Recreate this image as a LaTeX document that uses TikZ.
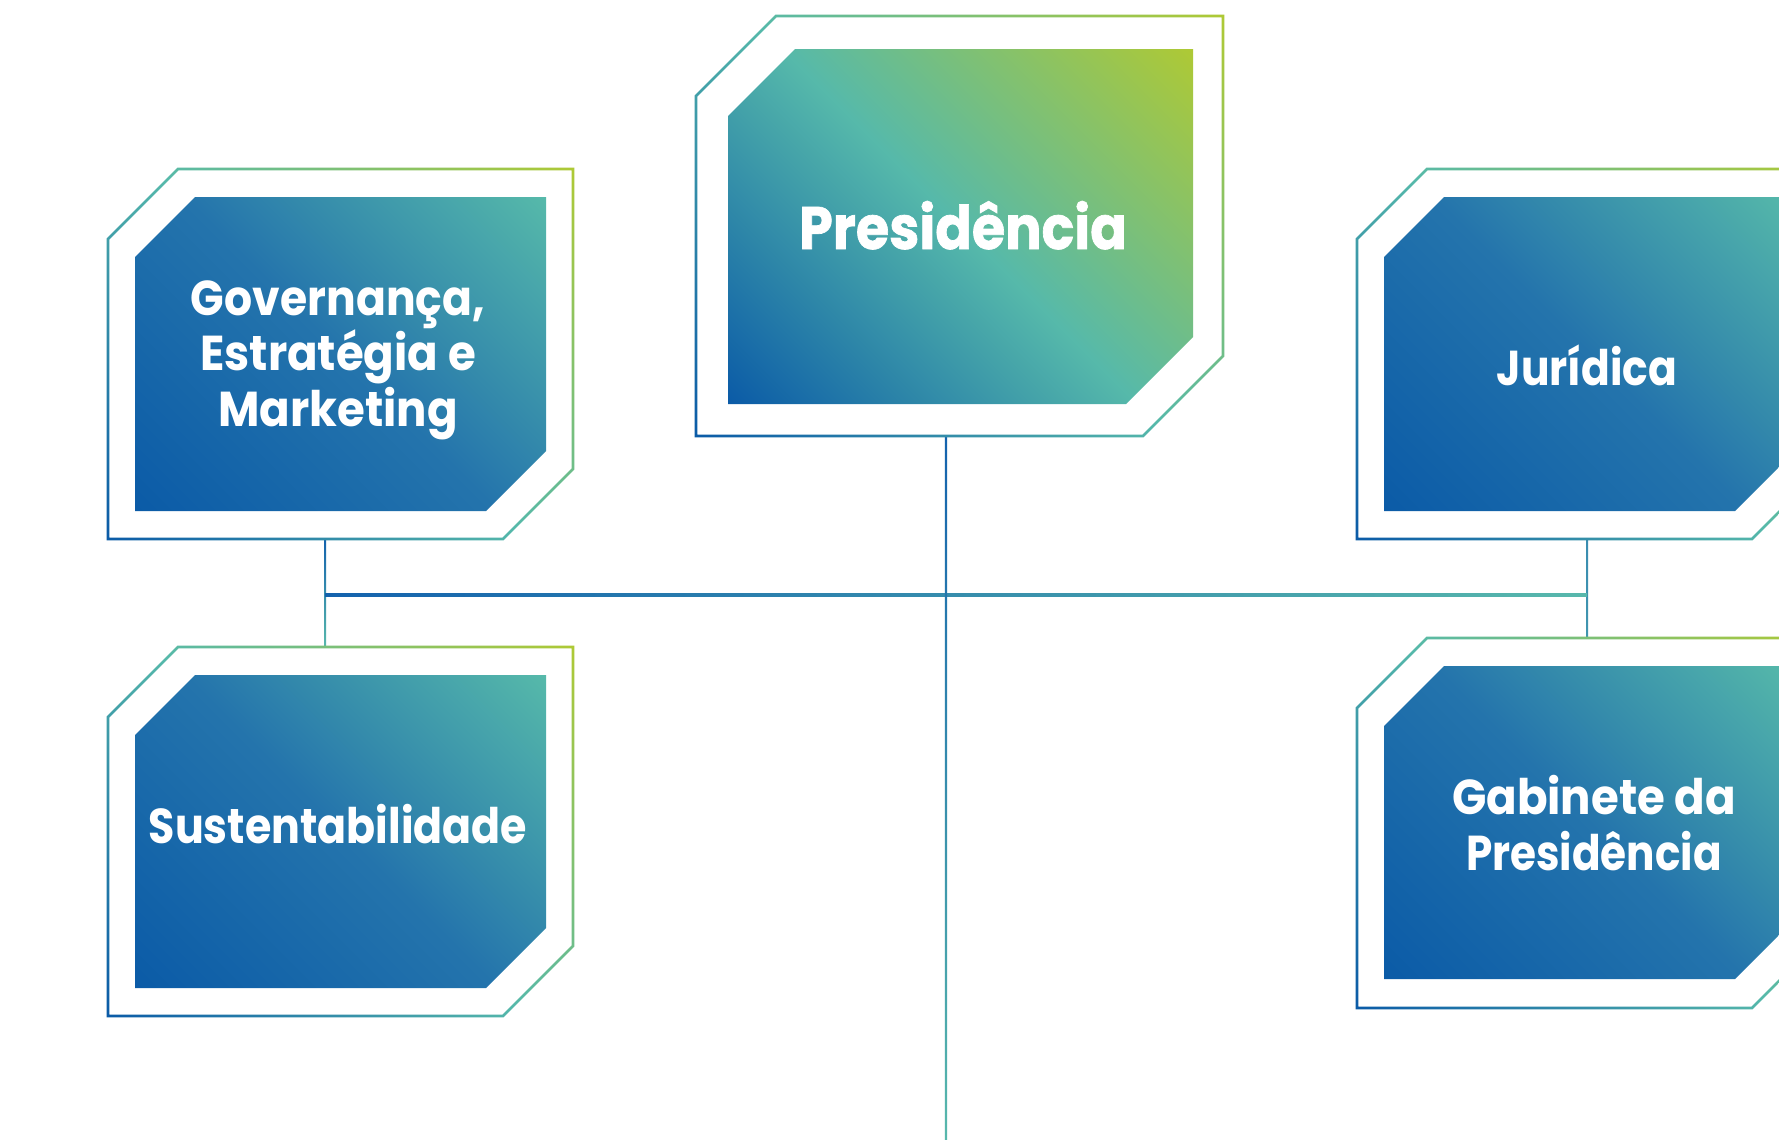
\documentclass[tikz,border=0pt]{standalone}
\usepackage{fontspec}
\setmainfont{Poppins}
\newfontfamily\presfont{Poppins}[BoldFeatures={FakeBold=1.2}]
\usetikzlibrary{calc}
\definecolor{cblue}{HTML}{0B5BA7}
\definecolor{cteal}{HTML}{56B9AA}
\definecolor{cgreen}{HTML}{AEC935}
\definecolor{cmid}{HTML}{2474AC}
\definecolor{lblue}{HTML}{1462AD}
\definecolor{lteal}{HTML}{58B8AC}
\definecolor{ljur}{HTML}{3A8DB0}
\pgfdeclarehorizontalshading{tri}{100bp}{color(0bp)=(cblue); color(14.6bp)=(cblue); color(50bp)=(cteal); color(85.4bp)=(cgreen); color(100bp)=(cgreen)}
\pgfdeclarehorizontalshading{bt}{100bp}{color(0bp)=(cblue); color(14.6bp)=(cblue); color(50bp)=(cmid); color(85.4bp)=(cteal); color(100bp)=(cteal)}
\newcommand\cpoly[5]{({#1},{#2+(#5)}) -- ({#1+(#5)},{#2}) -- ({#3},{#2}) -- ({#3},{#4-(#5)}) -- ({#3-(#5)},{#4}) -- ({#1},{#4}) -- cycle}
\newcommand\ring[5]{\shade[ringsh] \cpoly{#1-1.3}{#2-1.3}{#3+1.3}{#4+1.3}{#5+0.8} \cpoly{#1+1.3}{#2+1.3}{#3-1.3}{#4-1.3}{#5-0.8};}
\newcommand\sx[2]{\scalebox{#1}[1]{#2}}
\tikzset{
  ringsh/.style={shading=tri, shading angle=45, even odd rule},
  pfill/.style={shading=tri, shading angle=45},
  bfill/.style={shading=bt, shading angle=45},
  boxn/.style={rectangle, inner sep=0pt, outer sep=0pt},
  smallbox/.style={boxn, minimum width=232.5pt, minimum height=185pt},
  lbl/.style={text=white, inner sep=0pt, align=center, anchor=base, font=\bfseries\fontsize{24.5pt}{27.75pt}\selectfont},
  vconn/.style={top color=lblue, bottom color=lteal},
  hconn/.style={left color=lblue, right color=lteal},
}
\begin{document}
\begin{tikzpicture}[x=0.5pt, y=-0.5pt]
\useasboundingbox (0,0) rectangle (1779,1140);
\fill[white] (0,0) rectangle (1779,1140);
% box nodes (outer extents)
\node[boxn, minimum width=263.5pt, minimum height=210pt] (pres) at (959.5,226) {};
\node[smallbox] (gov) at (340.5,354) {};
\node[smallbox] (sus) at (340.5,831.5) {};
\node[smallbox] (jur) at (1589.5,354) {};
\node[smallbox] (gab) at (1589.5,823) {};
\coordinate (govc) at (325,595);
\coordinate (jurc) at (1587,595);
\coordinate (vend) at (946,1140);
% connectors
\shade[vconn] ($(gov.south -| govc)+(-1,0)$) rectangle ($(sus.north -| govc)+(1,0)$);
\shade[top color=ljur, bottom color=ljur!80!lteal] ($(jur.south -| jurc)+(-1,0)$) rectangle ($(gab.north -| jurc)+(1,0)$);
\shade[hconn] ($(govc)+(0,-1.6)$) rectangle ($(jurc)+(0,1.6)$);
\shade[vconn] ($(pres.south -| vend)+(-1.1,0)$) rectangle ($(vend)+(1.1,0)$);
% shapes
\ring{696}{16}{1223}{436}{80}
\shade[pfill] \cpoly{728}{49}{1193}{404}{67};
\ring{108}{169}{573}{539}{70}
\shade[bfill] \cpoly{135}{197}{546}{511}{60};
\ring{108}{647}{573}{1016}{70}
\shade[bfill] \cpoly{135}{675}{546}{988}{60};
\ring{1357}{169}{1822}{539}{70}
\shade[bfill] \cpoly{1384}{197}{1795}{511}{60};
\ring{1357}{638}{1822}{1008}{70}
\shade[bfill] \cpoly{1384}{666}{1795}{979}{60};
% labels
\node[lbl, font=\presfont\bfseries\fontsize{30pt}{34pt}\selectfont] (prest) at (963,249) {\sx{0.9}{Presidência}};
\node[lbl] (govt) at (338,426) {\sx{0.9}{Governança,}\\\sx{0.92}{Estratégia e}\\\sx{0.92}{Marketing}};
\node[lbl] (sust) at (338,843) {\sx{0.873}{Sustentabilidade}};
\node[lbl] (jurt) at (1587,385) {\sx{0.865}{Jurídica}};
\node[lbl] (gabt) at (1594,870) {\sx{0.92}{Gabinete da}\\\sx{0.86}{Presidência}};
\end{tikzpicture}
\end{document}
